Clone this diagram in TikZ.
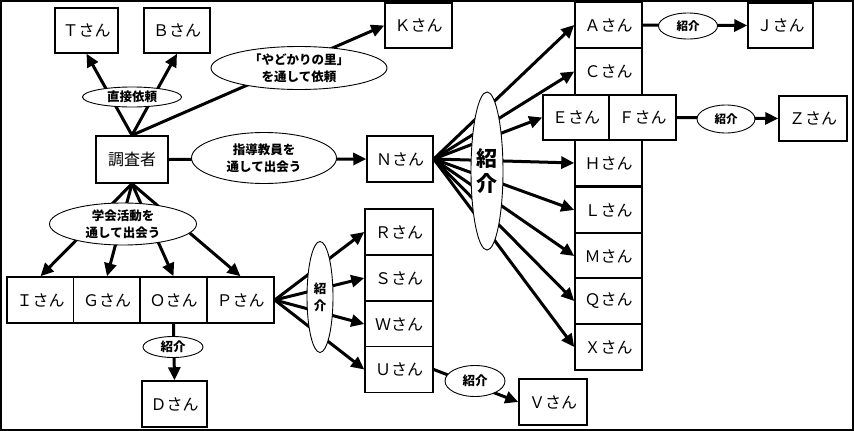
\documentclass[tikz,border=0pt]{standalone}
\usepackage{fontspec}
\setmainfont{Noto Sans CJK JP}
\usetikzlibrary{shapes.geometric, arrows.meta}

\begin{document}
\begin{tikzpicture}[x=1pt, y=-1pt,
    box/.style={draw, line width=1.5pt, fill=white, minimum width=67pt, minimum height=46pt,
      inner sep=0pt, font=\fontsize{16}{16}\selectfont},
    lbl/.style={ellipse, draw, line width=0.9pt, fill=white, inner sep=0pt, align=center,
      font=\bfseries\fontsize{12.5}{17}\selectfont},
    arr/.style={line width=3pt, -{Triangle[length=13pt, width=12pt]}},
    ln/.style={line width=3pt}]
    \useasboundingbox (0,0) rectangle (854,431);
    \draw[line width=2pt] (1,1) rectangle (853,430);
    % 上段
    \node[box, minimum width=63pt, minimum height=45pt] (T) at (86.5,30.5) {Ｔさん};
    \node[box, minimum width=66pt, minimum height=45pt] (B) at (177,30.5) {Ｂさん};
    \node[box, minimum height=45pt] (K) at (418.5,25.5) {Ｋさん};
    \node[box, minimum width=72pt, minimum height=47pt] (inv) at (132,159.5) {調査者};
    \node[box, minimum width=66pt] (N) at (400,159) {Ｎさん};
    % 右の列
    \foreach \n/\t/\y in {A/Ａ/25, C/Ｃ/71.5, H/Ｈ/163, L/Ｌ/210, M/Ｍ/256, Q/Ｑ/301, X/Ｘ/347} {
      \node[box] (\n) at (608.5,\y) {\t さん};
    }
    \node[box, minimum width=66pt, minimum height=45pt] (E) at (576,117.5) {Ｅさん};
    \node[box, minimum height=45pt] (F) at (642.5,117.5) {Ｆさん};
    \node[box, minimum width=65pt, minimum height=45pt] (J) at (780.5,25.5) {Ｊさん};
    \node[box, minimum width=68pt, minimum height=45pt] (Z) at (813,118.5) {Ｚさん};
    % 下段
    \foreach \n/\t/\x in {I/Ｉ/40.5, G/Ｇ/107, O/Ｏ/173.5, P/Ｐ/240.5} {
      \node[box] (\n) at (\x,300) {\t さん};
    }
    \node[box, minimum width=65pt] (D) at (174.5,404) {Ｄさん};
    \foreach \n/\t/\y in {R/Ｒ/232, S/Ｓ/278, W/Ｗ/324, U/Ｕ/369.5} {
      \node[box, minimum width=68pt] (\n) at (399,\y) {\t さん};
    }
    \node[box, minimum width=68pt] (V) at (553,402) {Ｖさん};
    % 矢印
    \draw[arr] (inv.north) -- (T.south);
    \draw[arr] (inv.north) -- (B.south);
    \draw[arr] (inv.north) -- (K.west);
    \draw[arr] (inv.east) -- (N.west);
    \foreach \n in {I, G, O, P} {
      \draw[arr] (inv.south) -- (\n.north);
    }
    \foreach \n in {A, C, E, H, L, M, Q, X} {
      \draw[arr] (N.east) -- (\n.west);
    }
    \foreach \n in {R, S, W, U} {
      \draw[arr] (P.east) -- (\n.west);
    }
    \draw[arr] (O.south) -- (D.north);
    \draw[arr] (A.east) -- (J.west);
    \draw[arr] (F.east) -- (Z.west);
    \draw[arr] (U.east) -- (V.west);
    % 楕円
    \node[lbl, minimum width=99pt, minimum height=20pt] (e1) at (132,97) {直接依頼};
    \node[lbl, minimum width=176pt, minimum height=43pt] (e2) at (299,68) {「やどかりの里」\\を通して依頼};
    \node[lbl, minimum width=145pt, minimum height=51pt] (e3) at (264,158) {指導教員を\\通して出会う};
    \node[lbl, minimum width=147pt, minimum height=42pt] (e4) at (123,224) {学会活動を\\通して出会う};
    \node[lbl, minimum width=60pt, minimum height=21pt] (e5) at (173,347) {紹介};
    \node[lbl, minimum width=26pt, minimum height=111pt] (e6) at (320,297) {紹\\介};
    \node[lbl, minimum width=32pt, minimum height=158pt, font=\bfseries\fontsize{21}{25}\selectfont] (e7) at (487,171) {紹\\介};
    \node[lbl, minimum width=59pt, minimum height=26pt, font=\bfseries\fontsize{11.5}{14}\selectfont] (e8) at (688,26) {紹介};
    \node[lbl, minimum width=58pt, minimum height=28pt, font=\bfseries\fontsize{11.5}{14}\selectfont] (e9) at (726,119) {紹介};
    \node[lbl, minimum width=60pt, minimum height=31pt] (e10) at (475,381) {紹介};
\end{tikzpicture}
\end{document}
